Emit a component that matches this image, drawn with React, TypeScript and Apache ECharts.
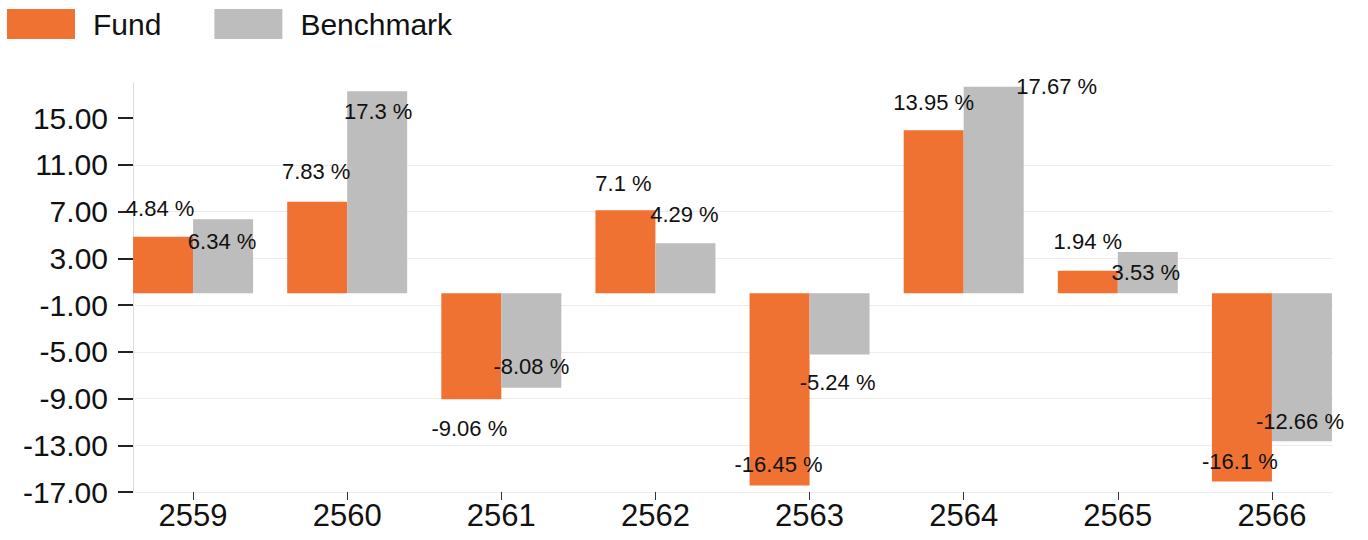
import React, { useEffect, useRef } from "react";
import * as echarts from "echarts";

const categories = ["2559", "2560", "2561", "2562", "2563", "2564", "2565", "2566"];
const fundValues = [4.84, 7.83, -9.06, 7.1, -16.45, 13.95, 1.94, -16.1];
const benchmarkValues = [6.34, 17.3, -8.08, 4.29, -5.24, 17.67, 3.53, -12.66];
const yTickValues = [-17, -13, -9, -5, -1, 3, 7, 11, 15];

// label offsets (dx, dy from the bar end to the label centre), styling only
const fundLabelOffsets = [[-3, -28], [-1, -30], [-2, 29], [-2, -27], [-1, -21], [0, -28], [0, -29], [-2, -20]];
const benchLabelOffsets = [[-1, 22], [1, 20], [0, -21], [-1, -29], [-2, 28], [63, 0], [-2, 20], [-2, -20]];

const FONT = "'Liberation Sans', Arial, sans-serif";
const ORANGE = "#F07232";
const GREY = "#BDBDBD";

function buildData(values: number[], offsets: number[][]) {
  return values.map((v, i) => ({
    value: v,
    label: {
      position: v >= 0 ? "top" : "bottom",
      distance: 0,
      verticalAlign: "middle",
      align: "center",
      offset: offsets[i],
    },
  }));
}

export default function App() {
  const ref = useRef<HTMLDivElement>(null);
  useEffect(() => {
    document.body.style.margin = "0";
    if (!ref.current) return;
    const chart = echarts.init(ref.current, null, { renderer: "svg" });
    const labelCommon = {
      show: true,
      formatter: (p: any) => `${p.value} %`,
      fontFamily: FONT,
      fontSize: 22,
      color: "#111",
    };
    chart.setOption({
      animation: false,
      backgroundColor: "#fff",
      textStyle: { fontFamily: FONT },
      legend: {
        left: 2,
        top: 4,
        icon: "rect",
        itemWidth: 68,
        itemHeight: 30,
        itemGap: 53,
        textStyle: { fontSize: 30, color: "#111", fontFamily: FONT, padding: [0, 0, 0, 13] },
        data: ["Fund", "Benchmark"],
      },
      grid: [
        { left: 116, right: 19, top: 83, bottom: 48 },
        { left: 133, right: 35, top: 83, bottom: 48 },
      ],
      xAxis: [
        {
          type: "category",
          gridIndex: 0,
          data: categories,
          axisLine: { show: false, onZero: false },
          axisTick: { show: true, alignWithLabel: true, length: 8, lineStyle: { color: "#333" } },
          axisLabel: { fontSize: 31, color: "#111", margin: 8, fontFamily: FONT },
          splitLine: { show: false },
        },
        { type: "value", gridIndex: 1, min: 0, max: 1, show: false },
      ],
      yAxis: [
        { type: "value", gridIndex: 0, min: -17, max: 18, interval: 4, show: false },
        {
          type: "value",
          gridIndex: 1,
          min: -17,
          max: 18,
          interval: 4,
          axisLine: { show: true, lineStyle: { color: "#dcdcdc", width: 1 } },
          axisTick: {
            show: true,
            length: 15,
            customValues: yTickValues,
            lineStyle: { color: "#222", width: 2 },
          },
          axisLabel: {
            fontSize: 30,
            color: "#111",
            margin: 25,
            fontFamily: FONT,
            customValues: yTickValues,
            formatter: (v: number) => v.toFixed(2),
          },
          splitLine: { show: true, showMaxLine: false, lineStyle: { color: "#ececec", width: 1 } },
        },
      ],
      series: [
        {
          name: "Fund",
          type: "bar",
          xAxisIndex: 0,
          yAxisIndex: 0,
          barWidth: 60,
          barGap: "0%",
          itemStyle: { color: ORANGE },
          label: labelCommon,
          data: buildData(fundValues, fundLabelOffsets),
        },
        {
          name: "Benchmark",
          type: "bar",
          xAxisIndex: 0,
          yAxisIndex: 0,
          barWidth: 60,
          barGap: "0%",
          itemStyle: { color: GREY },
          label: labelCommon,
          data: buildData(benchmarkValues, benchLabelOffsets),
        },
      ],
    });
    return () => chart.dispose();
  }, []);
  return <div ref={ref} style={{ width: 1368, height: 540 }} />;
}
